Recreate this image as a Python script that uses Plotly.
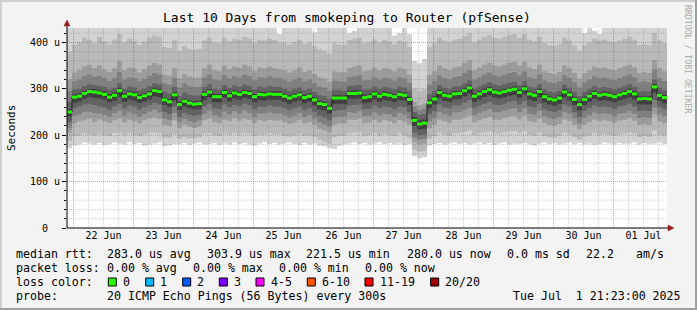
import plotly.graph_objects as go
from datetime import datetime, timedelta

# ---------------- data ----------------
START = datetime(2025, 6, 21, 21, 23)
END = datetime(2025, 7, 1, 21, 23)
STEP = timedelta(hours=2)

median = [
    250, 282, 284, 290, 294, 293, 291, 288, 282, 286,
    296, 284, 289, 287, 281, 285, 289, 296, 294, 276,
    272, 287, 266, 273, 269, 267, 268, 288, 293, 283,
    283, 292, 285, 291, 288, 292, 290, 283, 288, 287,
    289, 288, 288, 284, 280, 284, 287, 281, 284, 276,
    268, 266, 258, 280, 280, 280, 290, 290, 291, 281,
    283, 289, 284, 288, 286, 283, 288, 286, 277, 232,
    224, 226, 270, 278, 292, 286, 284, 289, 290, 296,
    302, 284, 289, 294, 298, 293, 291, 294, 297, 299,
    292, 300, 289, 286, 294, 283, 278, 276, 280, 293,
    287, 277, 266, 277, 284, 290, 286, 288, 286, 283,
    287, 290, 294, 289, 278, 279, 278, 304, 286, 281,
]
smoke_min = [
    172, 178, 180, 184, 182, 180, 183, 179, 181, 184,
    182, 180, 185, 181, 183, 178, 180, 182, 184, 176,
    178, 181, 180, 183, 179, 182, 184, 180, 181, 183,
    179, 182, 180, 184, 181, 183, 180, 178, 182, 185,
    181, 183, 180, 182, 184, 181, 179, 183, 180, 182,
    178, 176, 172, 170, 177, 180, 182, 184, 181, 183,
    180, 182, 185, 181, 183, 180, 182, 179, 181, 155,
    150, 153, 178, 181, 183, 180, 182, 184, 181, 183,
    180, 182, 185, 181, 183, 179, 182, 184, 180, 182,
    181, 183, 180, 178, 182, 184, 181, 183, 180, 182,
    184, 181, 183, 180, 182, 179, 181, 184, 182, 180,
    183, 181, 182, 184, 180, 183, 181, 182, 184, 181,
]
smoke_p10 = [
    188, 198, 200, 204, 202, 199, 203, 200, 198, 204,
    205, 200, 204, 201, 198, 202, 205, 206, 204, 195,
    194, 202, 192, 196, 193, 194, 196, 203, 205, 200,
    198, 204, 201, 205, 202, 204, 203, 198, 202, 201,
    204, 202, 202, 199, 197, 200, 203, 198, 200, 196,
    190, 186, 182, 196, 198, 199, 204, 205, 206, 199,
    200, 204, 199, 203, 201, 198, 204, 200, 195, 168,
    165, 166, 192, 198, 205, 201, 199, 204, 205, 207,
    210, 200, 204, 206, 208, 204, 203, 206, 208, 209,
    204, 209, 201, 199, 206, 198, 196, 195, 198, 205,
    202, 196, 190, 197, 200, 205, 201, 203, 201, 199,
    202, 204, 206, 203, 196, 198, 196, 210, 202, 199,
]
smoke_p25 = [
    205, 225, 230, 232, 236, 228, 234, 230, 226, 232,
    236, 228, 233, 230, 225, 232, 236, 238, 235, 222,
    220, 232, 215, 222, 218, 216, 219, 232, 236, 228,
    226, 234, 230, 236, 231, 235, 233, 226, 232, 230,
    233, 231, 232, 228, 224, 227, 232, 225, 228, 222,
    214, 210, 205, 222, 225, 226, 234, 233, 236, 226,
    228, 233, 227, 232, 230, 226, 233, 229, 222, 185,
    180, 182, 215, 222, 234, 230, 227, 233, 234, 238,
    242, 228, 232, 236, 240, 234, 233, 237, 240, 241,
    234, 242, 230, 228, 236, 226, 222, 220, 224, 234,
    230, 222, 212, 222, 228, 234, 230, 232, 230, 227,
    231, 233, 237, 231, 222, 224, 222, 244, 230, 226,
]
smoke_p33 = [
    216, 242, 245, 250, 251, 248, 247, 244, 240, 248,
    253, 242, 249, 245, 240, 245, 251, 255, 249, 236,
    232, 248, 228, 235, 230, 228, 232, 246, 253, 243,
    240, 251, 245, 252, 246, 253, 248, 240, 247, 246,
    249, 246, 247, 243, 238, 242, 248, 239, 243, 236,
    228, 223, 218, 238, 240, 240, 250, 248, 252, 241,
    242, 249, 243, 246, 245, 240, 248, 244, 236, 195,
    190, 192, 230, 237, 250, 245, 242, 249, 250, 255,
    259, 243, 248, 252, 256, 250, 249, 253, 256, 258,
    250, 258, 246, 244, 252, 241, 237, 235, 239, 250,
    246, 236, 226, 237, 243, 249, 245, 247, 245, 241,
    246, 248, 252, 246, 237, 239, 237, 260, 245, 241,
]
smoke_p40 = [
    228, 258, 262, 266, 268, 265, 262, 260, 255, 262,
    268, 258, 264, 262, 255, 260, 265, 270, 266, 250,
    245, 262, 240, 248, 244, 242, 244, 262, 268, 258,
    256, 266, 260, 265, 262, 268, 264, 256, 262, 260,
    264, 262, 262, 258, 254, 258, 262, 255, 258, 250,
    242, 238, 232, 252, 254, 255, 264, 265, 266, 256,
    257, 264, 258, 262, 260, 256, 262, 260, 250, 205,
    200, 202, 245, 252, 266, 260, 258, 264, 265, 270,
    276, 258, 264, 268, 272, 266, 265, 268, 272, 274,
    266, 274, 262, 260, 268, 256, 252, 250, 254, 266,
    262, 250, 240, 252, 258, 264, 260, 262, 260, 256,
    262, 264, 268, 262, 252, 254, 252, 276, 260, 256,
]
smoke_p47 = [
    240, 270, 273, 278, 282, 280, 279, 276, 271, 274,
    283, 272, 277, 275, 270, 273, 277, 284, 282, 265,
    261, 275, 255, 262, 258, 256, 257, 276, 281, 271,
    271, 280, 273, 279, 276, 280, 278, 271, 276, 275,
    277, 276, 276, 272, 268, 272, 275, 269, 272, 264,
    256, 254, 246, 268, 268, 268, 278, 278, 279, 269,
    271, 277, 272, 276, 274, 271, 276, 274, 265, 220,
    212, 214, 258, 266, 280, 274, 272, 277, 278, 284,
    290, 272, 277, 282, 286, 281, 279, 282, 285, 287,
    280, 288, 277, 274, 282, 271, 266, 264, 268, 281,
    275, 265, 254, 265, 272, 278, 274, 276, 274, 271,
    275, 278, 282, 277, 266, 267, 266, 292, 274, 269,
]
smoke_p53 = [
    256, 288, 290, 296, 300, 299, 297, 294, 288, 292,
    302, 290, 295, 293, 287, 291, 295, 302, 300, 282,
    278, 293, 272, 279, 275, 273, 274, 294, 299, 289,
    289, 298, 291, 297, 294, 298, 296, 289, 294, 293,
    295, 294, 294, 290, 286, 290, 293, 287, 290, 282,
    274, 272, 264, 286, 286, 286, 296, 296, 297, 287,
    289, 295, 290, 294, 292, 289, 294, 292, 283, 240,
    232, 234, 276, 284, 298, 292, 290, 295, 296, 302,
    308, 290, 295, 300, 304, 299, 297, 300, 303, 305,
    298, 306, 295, 292, 300, 289, 284, 282, 286, 299,
    293, 283, 272, 283, 290, 296, 292, 294, 292, 289,
    293, 296, 300, 295, 284, 285, 284, 310, 292, 287,
]
smoke_p60 = [
    272, 298, 300, 306, 310, 308, 306, 304, 298, 302,
    312, 300, 305, 303, 297, 300, 306, 312, 310, 294,
    290, 304, 284, 292, 287, 285, 286, 304, 310, 300,
    298, 308, 302, 307, 304, 309, 306, 299, 305, 303,
    306, 304, 304, 300, 296, 300, 303, 297, 300, 293,
    286, 284, 278, 298, 297, 296, 306, 307, 308, 298,
    299, 305, 300, 304, 302, 299, 305, 302, 296, 250,
    244, 246, 288, 296, 308, 302, 300, 305, 306, 312,
    318, 300, 305, 310, 314, 309, 307, 310, 313, 315,
    308, 316, 305, 302, 310, 299, 294, 292, 296, 309,
    303, 294, 284, 294, 300, 306, 302, 304, 302, 299,
    303, 306, 310, 305, 294, 296, 294, 320, 302, 297,
]
smoke_p67 = [
    296, 316, 320, 327, 331, 326, 328, 323, 317, 323,
    336, 320, 325, 323, 316, 321, 328, 334, 331, 312,
    309, 324, 303, 312, 306, 304, 305, 324, 331, 320,
    318, 329, 322, 327, 324, 330, 327, 318, 325, 323,
    327, 324, 323, 320, 315, 320, 324, 316, 320, 312,
    305, 303, 296, 318, 316, 315, 325, 327, 329, 318,
    319, 325, 320, 324, 322, 318, 325, 322, 313, 261,
    254, 257, 309, 317, 329, 323, 320, 325, 327, 334,
    340, 320, 325, 331, 335, 329, 327, 331, 334, 336,
    329, 337, 325, 322, 331, 318, 314, 312, 316, 329,
    323, 314, 303, 314, 320, 327, 323, 325, 322, 319,
    323, 327, 331, 325, 314, 316, 314, 341, 323, 317,
]
smoke_p75 = [
    320, 335, 340, 348, 352, 345, 350, 342, 336, 344,
    360, 340, 346, 344, 335, 342, 350, 356, 352, 330,
    328, 345, 322, 332, 326, 324, 325, 344, 352, 340,
    338, 350, 342, 348, 345, 352, 348, 338, 346, 344,
    348, 345, 342, 340, 335, 340, 346, 336, 340, 332,
    325, 322, 315, 338, 336, 335, 345, 348, 350, 338,
    340, 346, 340, 345, 342, 338, 346, 342, 330, 272,
    265, 268, 330, 338, 350, 344, 340, 346, 348, 356,
    362, 340, 346, 352, 356, 350, 348, 352, 356, 358,
    350, 358, 346, 342, 352, 338, 334, 332, 336, 350,
    344, 334, 322, 334, 340, 348, 344, 346, 342, 340,
    344, 348, 352, 346, 334, 336, 334, 362, 344, 338,
]
smoke_p90 = [
    380, 395, 400, 410, 405, 398, 412, 402, 396, 406,
    418, 400, 408, 404, 395, 402, 410, 415, 412, 390,
    388, 405, 382, 392, 386, 384, 386, 404, 410, 400,
    398, 410, 402, 408, 405, 412, 408, 398, 406, 404,
    408, 405, 400, 400, 395, 400, 406, 396, 400, 392,
    385, 382, 376, 398, 396, 395, 405, 408, 410, 398,
    400, 406, 400, 405, 402, 396, 404, 400, 390, 300,
    295, 298, 390, 398, 410, 404, 400, 406, 408, 414,
    420, 400, 406, 412, 416, 410, 408, 412, 416, 418,
    410, 418, 406, 402, 412, 398, 394, 392, 396, 410,
    404, 394, 382, 394, 400, 408, 404, 406, 402, 400,
    404, 408, 412, 406, 394, 396, 394, 420, 404, 398,
]
smoke_max = [
    440, 440, 440, 440, 440, 440, 440, 440, 440, 440,
    440, 440, 440, 440, 440, 440, 440, 440, 440, 440,
    440, 440, 440, 440, 440, 440, 440, 440, 440, 440,
    440, 440, 440, 440, 440, 440, 440, 440, 440, 440,
    440, 440, 418, 440, 440, 440, 440, 440, 440, 422,
    440, 440, 440, 440, 440, 440, 420, 425, 440, 440,
    440, 440, 440, 440, 440, 415, 420, 440, 418, 360,
    355, 365, 440, 440, 440, 440, 440, 440, 440, 440,
    440, 440, 440, 440, 440, 440, 440, 440, 440, 440,
    440, 440, 440, 440, 440, 440, 440, 440, 440, 440,
    440, 440, 440, 420, 440, 425, 418, 440, 440, 440,
    440, 440, 440, 440, 440, 440, 440, 440, 440, 440,
]

y_tick_vals = [0, 100, 200, 300, 400]
y_tick_text = ["0\u00a0\u00a0", "100 u", "200 u", "300 u", "400 u"]

loss_labels = ["0", "1", "2", "3", "4-5", "6-10", "11-19", "20/20"]
loss_colors = ["#26ff00", "#00b8ff", "#0059ff", "#7e00ff", "#ff00ff", "#ff5500", "#ff0000", "#a10000"]

title_text = "Last 10 Days from smokeping to Router (pfSense)"
legend_rows = [
    [("median rtt:", 16), ("283.0 us avg", 107.3), ("303.9 us max", 207.3), ("221.5 us min", 306.0),
     ("280.0 us now", 407.3), ("0.0 ms sd", 507.3), ("22.2", 586), ("am/s", 636)],
    [("packet loss:", 16), ("0.00 % avg", 107.3), ("0.00 % max", 193.3), ("0.00 % min", 279.3),
     ("0.00 % now", 365)],
    [("loss color:", 16)],
    [("probe:", 16), ("20 ICMP Echo Pings (56 Bytes) every 300s", 107.3),
     ("Tue Jul\u00a0\u00a01 21:23:00 2025", 513.3)],
]
legend_row_y = [254.3, 268.3, 282.3, 296.0]
loss_box_x = [108.3, 145.7, 182.7, 219.3, 256.0, 307.3, 365.0, 430.7]
loss_label_x = [122.7, 160.0, 196.7, 234.3, 270.7, 321.7, 380.0, 445.0]

# ---------------- geometry helpers ----------------
W, H = 697, 310
PL, PT, PR, PB = 67, 28, 667, 228
Y_MAX = 431
MONO = "DejaVu Sans Mono"


def px(x):
    return (x - PL) / (PR - PL)


def py(y):
    return (PB - y) / (PB - PT)


edges = [START + STEP * k for k in range(len(median) + 1)]


def band(lo, hi):
    xs, ys = [], []
    for k in range(len(hi)):
        xs += [edges[k], edges[k + 1]]
        ys += [hi[k], hi[k]]
    for k in reversed(range(len(lo))):
        xs += [edges[k + 1], edges[k]]
        ys += [lo[k], lo[k]]
    return xs, ys


fig = go.Figure()

bands = [
    (smoke_min, smoke_max, "#d2d2d2"),
    (smoke_p10, smoke_p90, "#b9b9b9"),
    (smoke_p25, smoke_p75, "#9c9c9c"),
    (smoke_p33, smoke_p67, "#808080"),
    (smoke_p40, smoke_p60, "#626262"),
    (smoke_p47, smoke_p53, "#3e3e3e"),
]
for lo, hi, col in bands:
    xs, ys = band(lo, hi)
    fig.add_trace(go.Scatter(x=xs, y=ys, mode="lines", fill="toself", fillcolor=col,
                             line=dict(width=0), hoverinfo="skip"))

# grid (drawn above the smoke like rrdtool)
minor_v_x, minor_v_y, major_v_x, major_v_y = [], [], [], []
t = datetime(2025, 6, 22, 0, 0)
while t <= END:
    if t.hour == 0:
        major_v_x += [t, t, None]
        major_v_y += [0, Y_MAX, None]
    else:
        minor_v_x += [t, t, None]
        minor_v_y += [0, Y_MAX, None]
    t += timedelta(hours=6)
minor_h_x, minor_h_y, major_h_x, major_h_y = [], [], [], []
for v in range(20, Y_MAX, 20):
    if v % 100 == 0:
        major_h_x += [START, END, None]
        major_h_y += [v, v, None]
    else:
        minor_h_x += [START, END, None]
        minor_h_y += [v, v, None]

for xs, ys, col in [(minor_v_x, minor_v_y, "rgba(120,120,120,0.35)"),
                    (minor_h_x, minor_h_y, "rgba(120,120,120,0.35)"),
                    (major_v_x, major_v_y, "rgba(255,40,40,0.55)"),
                    (major_h_x, major_h_y, "rgba(255,40,40,0.55)")]:
    fig.add_trace(go.Scatter(x=xs, y=ys, mode="lines", line=dict(color=col, width=1, dash="1px,1px"),
                             hoverinfo="skip"))

# median: dark step line + green loss-coloured dashes
fig.add_trace(go.Scatter(x=edges, y=median + [median[-1]], mode="lines",
                         line=dict(color="#202020", width=1, shape="hv"), hoverinfo="skip"))
gx, gy = [], []
for k, m in enumerate(median):
    gx += [edges[k], edges[k + 1], None]
    gy += [m, m, None]
fig.add_trace(go.Scatter(x=gx, y=gy, mode="lines", line=dict(color=loss_colors[0], width=3),
                         hoverinfo="skip"))

shapes = []
shapes.append(dict(type="line", xref="paper", yref="paper", x0=px(67), x1=px(670), y0=py(228), y1=py(228),
                   line=dict(color="#000000", width=1)))
shapes.append(dict(type="line", xref="paper", yref="paper", x0=px(67), x1=px(67), y0=py(228), y1=py(24),
                   line=dict(color="#000000", width=1)))


def tri(points, color="#9b1c1c"):
    path = "M " + " L ".join(f"{px(a)},{py(b)}" for a, b in points) + " Z"
    return dict(type="path", xref="paper", yref="paper", path=path, fillcolor=color,
                line=dict(color=color, width=0.5))


shapes.append(tri([(64, 26), (70, 26), (67, 20)]))
shapes.append(tri([(668, 225), (668, 231), (674, 228)]))


def rect(x0, y0, x1, y1, color, line=None):
    return dict(type="rect", xref="paper", yref="paper", x0=px(x0), x1=px(x1), y0=py(y0), y1=py(y1),
                fillcolor=color, line=line or dict(width=0), layer="above")


shapes.append(rect(0, 0, W, 2, "#cfcfcf"))
shapes.append(rect(0, 0, 2, H, "#cfcfcf"))
shapes.append(rect(0, H - 2, W, H, "#9e9e9e"))
shapes.append(rect(W - 2, 0, W, H, "#9e9e9e"))

for bx, col in zip(loss_box_x, loss_colors):
    shapes.append(rect(bx, 278, bx + 8, 286, col, line=dict(color="#000000", width=1)))

annotations = []


def txt(text, x, y, size, xanchor="left", color="#000000", angle=0):
    annotations.append(dict(text=text, x=px(x), y=py(y), xref="paper", yref="paper", showarrow=False,
                            xanchor=xanchor, yanchor="middle", textangle=angle, borderpad=0, borderwidth=0,
                            font=dict(family=MONO, size=size, color=color)))


txt(title_text, 347, 18, 13, xanchor="center")
txt("Seconds", 11, 128, 11, xanchor="center", angle=-90)
txt("RRDTOOL / TOBI OETIKER", 688, 59, 8.2, xanchor="center", color="#aaaaaa", angle=90)
for row, yy in zip(legend_rows, legend_row_y):
    for s, xx in row:
        txt(s, xx, yy, 11.6)
for lab, xx in zip(loss_labels, loss_label_x):
    txt(lab, xx, legend_row_y[2], 11.6)

fig.update_layout(
    width=W, height=H,
    margin=dict(l=PL, r=W - PR, t=PT, b=H - PB),
    paper_bgcolor="#f3f3f3", plot_bgcolor="#ffffff",
    showlegend=False,
    font=dict(family=MONO, size=10, color="#000000"),
    shapes=shapes, annotations=annotations,
    xaxis=dict(type="date", range=[START, END], showgrid=False, zeroline=False, showline=False,
               tickmode="linear", tick0="2025-06-22", dtick=86400000, ticklabelmode="period",
               tickformat="%d %b", ticks="", tickfont=dict(family=MONO, size=10, color="#000000"),
               fixedrange=True),
    yaxis=dict(range=[0, Y_MAX], showgrid=False, zeroline=False, showline=False,
               tickmode="array", tickvals=y_tick_vals, ticktext=y_tick_text,
               ticks="outside", ticklen=4, tickcolor="#000000", tickwidth=1,
               minor=dict(tickmode="linear", tick0=0, dtick=20, ticks="outside", ticklen=2,
                          tickcolor="#000000", showgrid=False),
               tickfont=dict(family=MONO, size=10, color="#000000"), fixedrange=True),
)

fig.write_html("out.html", config={"displayModeBar": False})
